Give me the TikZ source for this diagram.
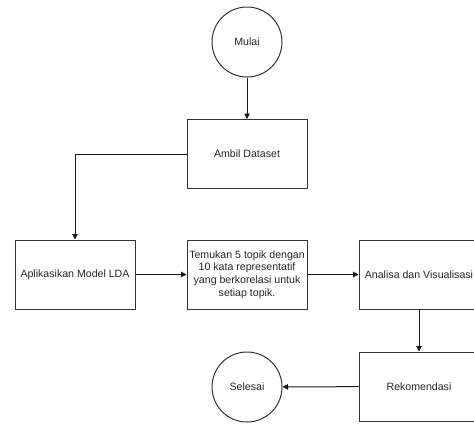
\documentclass[tikz,border=0pt]{standalone}
\usepackage{fontspec}
\setmainfont{Liberation Sans}
\usetikzlibrary{arrows.meta}
\begin{document}
\begin{tikzpicture}[x=1pt,y=-1pt,
  txt/.style={font=\fontsize{10.6}{12.7}\selectfont, text=black!85},
  stepbox/.style={txt, draw=black!80, line width=1pt, minimum width=120pt, minimum height=69pt, inner sep=0pt, align=center},
  term/.style={txt, draw=black!80, line width=1pt, circle, minimum size=70pt, inner sep=0pt},
  flow/.style={draw=black!90, line width=1pt, -{Triangle[length=5.5pt,width=5.5pt]}}]
\useasboundingbox (0,0) rectangle (474,424);
\fill[white] (0,0) rectangle (474,424);

% terminals
\node[term] (mulai) at (247,42) {Mulai};
\node[term] (selesai) at (247,387) {Selesai};

% process steps
\node[stepbox] (ambil) at (247,154) {Ambil Dataset};
\node[stepbox] (lda) at (75,274.5) {Aplikasikan Model LDA};
\node[stepbox] (topik) at (247,274.5) {Temukan 5 topik dengan\\10 kata representatif\\yang berkorelasi untuk\\setiap topik.};
\node[stepbox] (analisa) at (419,274.5) {Analisa dan Visualisasi};
\node[stepbox] (rekom) at (419,386.5) {Rekomendasi};

% connectors
\draw[flow] (mulai) -- (ambil);
\draw[flow] (ambil.west) -| (lda.north);
\draw[flow] (lda) -- (topik);
\draw[flow] (topik) -- (analisa);
\draw[flow] (analisa) -- (rekom);
\draw[flow] (rekom) -- (selesai);
\end{tikzpicture}
\end{document}
